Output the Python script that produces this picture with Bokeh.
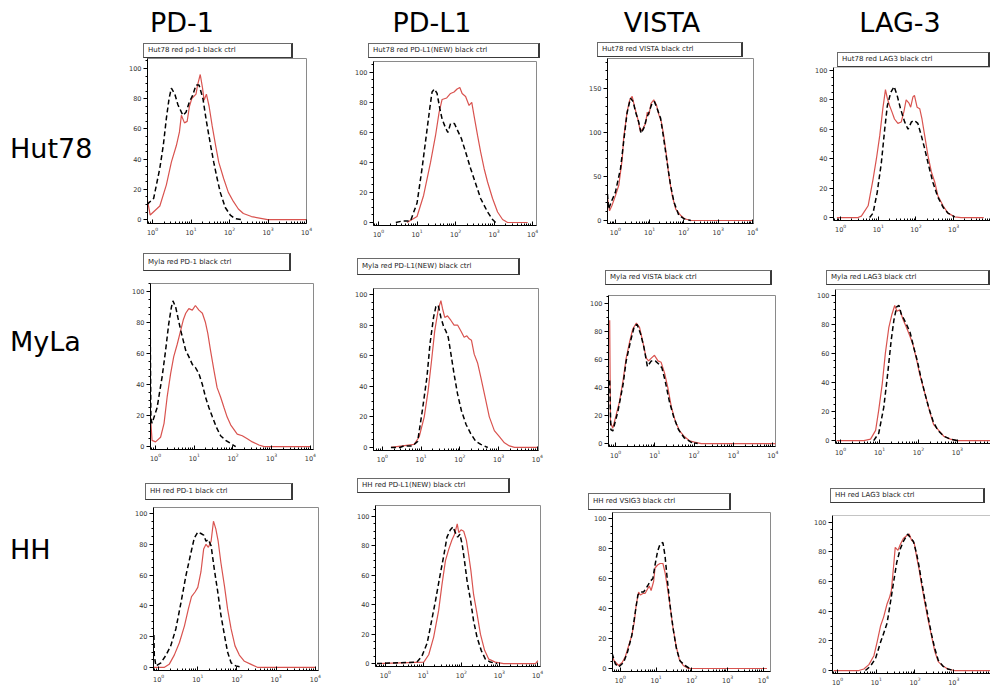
from bokeh.plotting import figure
from bokeh.models import Range1d, Span, FixedTicker, LogTickFormatter, SingleIntervalTicker, Div
from bokeh.embed import file_html
from bokeh.resources import INLINE

# ---------------- data (log10 of fluorescence, % of max count) ----------------
markers = ["PD-1", "PD-L1", "VISTA", "LAG-3"]
cell_lines = ["Hut78", "MyLa", "HH"]
panel_titles = [
    ["Hut78 red pd-1 black ctrl", "Hut78 red PD-L1(NEW) black ctrl", "Hut78 red VISTA black ctrl", "Hut78 red LAG3 black ctrl"],
    ["Myla red PD-1 black ctrl", "Myla red PD-L1(NEW) black ctrl", "Myla red VISTA black ctrl", "Myla red LAG3 black ctrl"],
    ["HH red PD-1 black ctrl", "HH red PD-L1(NEW) black ctrl", "HH red VSIG3 black ctrl", "HH red LAG3 black ctrl"],
]

hut78_pd1_red_lx = [-0.14, -0.06, 0.19, 0.36, 0.49, 0.62, 0.70, 0.75, 0.83, 0.90, 0.96, 1.02, 1.13, 1.17, 1.24, 1.30, 1.34, 1.40, 1.47, 1.55, 1.64, 1.72, 1.85, 1.97, 2.10, 2.23, 2.36, 2.57, 2.99, 3.67, 4.0]
hut78_pd1_red_y = [14, 3, 9, 23, 38, 49, 58, 69, 64, 65, 75, 80, 83, 89, 96, 87, 79, 83, 75, 62, 49, 38, 27, 18, 12, 7, 4, 2, 0, 0, 0]
hut78_pd1_blk_lx = [-0.14, 0.03, 0.19, 0.28, 0.36, 0.43, 0.49, 0.58, 0.66, 0.79, 0.87, 0.96, 1.04, 1.13, 1.21, 1.31, 1.40, 1.51, 1.59, 1.68, 1.76, 1.89, 2.02, 2.14, 2.31]
hut78_pd1_blk_y = [10, 14, 34, 49, 67, 80, 87, 83, 76, 69, 71, 78, 82, 89, 89, 80, 65, 49, 38, 27, 18, 8, 3, 0.7, 0]

hut78_pdl1_red_lx = [0.74, 1.0, 1.17, 1.35, 1.48, 1.57, 1.65, 1.77, 1.87, 1.96, 2.04, 2.11, 2.17, 2.26, 2.35, 2.42, 2.48, 2.57, 2.65, 2.74, 2.83, 2.96, 3.09, 3.22, 3.35, 3.87]
hut78_pdl1_red_y = [0, 4, 18, 40, 58, 73, 82, 83, 86, 87, 89, 90, 86, 84, 78, 80, 71, 58, 47, 36, 27, 16, 7, 2, 0, 0]
hut78_pdl1_blk_lx = [0.45, 0.62, 0.83, 1.0, 1.13, 1.24, 1.33, 1.39, 1.45, 1.52, 1.59, 1.65, 1.74, 1.80, 1.87, 1.97, 2.04, 2.15, 2.26, 2.39, 2.52, 2.65, 2.83, 2.96, 3.04]
hut78_pdl1_blk_y = [0, 1, 1, 13, 36, 58, 76, 87, 89, 86, 76, 69, 63, 60, 66, 66, 62, 56, 47, 36, 26, 16, 7, 2, 0]

hut78_vista_red_lx = [-0.24, -0.17, -0.10, 0, 0.10, 0.20, 0.24, 0.34, 0.42, 0.49, 0.56, 0.65, 0.73, 0.81, 0.88, 0.93, 0.98, 1.04, 1.12, 1.20, 1.27, 1.34, 1.41, 1.49, 1.56, 1.66, 1.76, 1.90, 2.02, 2.20, 4.0]
hut78_vista_red_y = [28, 11, 17, 28, 40, 70, 93, 123, 137, 141, 129, 116, 101, 105, 110, 123, 120, 133, 137, 131, 120, 112, 97, 74, 51, 28, 13, 6, 2, 0, 0]
hut78_vista_blk_lx = [-0.23, -0.20, -0.10, 0, 0.15, 0.24, 0.34, 0.44, 0.52, 0.59, 0.68, 0.75, 0.83, 0.91, 0.98, 1.07, 1.14, 1.22, 1.32, 1.41, 1.51, 1.61, 1.71, 1.85, 2.0, 2.20]
hut78_vista_blk_y = [30, 13, 23, 32, 59, 89, 122, 139, 135, 123, 112, 99, 105, 116, 123, 133, 135, 127, 116, 93, 66, 40, 21, 6, 2, 0]

hut78_lag3_red_lx = [-0.1, 0.46, 0.55, 0.73, 0.86, 0.95, 1.04, 1.12, 1.19, 1.24, 1.30, 1.36, 1.43, 1.52, 1.61, 1.68, 1.74, 1.81, 1.86, 1.92, 1.96, 2.03, 2.10, 2.16, 2.23, 2.32, 2.41, 2.50, 2.58, 2.72, 2.85, 3.03, 3.20, 3.8]
hut78_lag3_red_y = [0, 0, 1, 8, 26, 40, 56, 74, 87, 81, 76, 72, 67, 64, 65, 72, 80, 78, 75, 82, 83, 75, 74, 67, 56, 42, 31, 24, 15, 8, 3, 0.5, 0, 0]
hut78_lag3_blk_lx = [0.77, 0.86, 0.97, 1.08, 1.17, 1.24, 1.33, 1.42, 1.50, 1.59, 1.70, 1.79, 1.88, 1.96, 2.05, 2.14, 2.23, 2.34, 2.45, 2.58, 2.72, 2.85, 3.03]
hut78_lag3_blk_y = [0, 3, 17, 37, 60, 76, 85, 89, 83, 74, 65, 60, 65, 66, 64, 56, 47, 35, 24, 14, 7, 3, 0.5]

myla_pd1_red_lx = [-0.13, -0.09, 0, 0.13, 0.22, 0.30, 0.39, 0.47, 0.56, 0.65, 0.72, 0.78, 0.86, 0.95, 1.03, 1.12, 1.21, 1.29, 1.35, 1.42, 1.51, 1.59, 1.68, 1.77, 1.85, 1.94, 2.11, 2.24, 2.37, 2.50, 2.67, 2.80, 4.0]
myla_pd1_red_y = [19, 4, 3, 6, 15, 32, 47, 58, 66, 75, 82, 86, 89, 88, 91, 88, 86, 80, 73, 62, 49, 38, 32, 25, 19, 14, 8, 7, 5, 3, 1, 0, 0]
myla_pd1_blk_lx = [-0.14, -0.12, -0.09, 0.04, 0.17, 0.26, 0.34, 0.41, 0.45, 0.52, 0.58, 0.65, 0.72, 0.78, 0.86, 0.95, 1.03, 1.12, 1.21, 1.29, 1.38, 1.47, 1.58, 1.68, 1.81, 1.94, 2.07]
myla_pd1_blk_y = [85, 18, 15, 25, 45, 62, 79, 90, 94, 90, 83, 75, 68, 62, 58, 53, 51, 47, 40, 32, 25, 19, 12, 7, 4, 2, 0]

myla_pdl1_red_lx = [0.22, 0.82, 0.95, 1.08, 1.18, 1.27, 1.35, 1.44, 1.51, 1.55, 1.61, 1.68, 1.77, 1.85, 1.94, 2.03, 2.11, 2.18, 2.24, 2.30, 2.37, 2.46, 2.54, 2.65, 2.76, 2.89, 3.02, 3.15, 3.28, 3.41, 4.01]
myla_pdl1_red_y = [0, 2, 7, 20, 37, 57, 76, 90, 96, 91, 85, 86, 83, 80, 80, 76, 72, 73, 71, 70, 61, 55, 46, 33, 20, 11, 7, 3, 1, 0, 0]
myla_pdl1_blk_lx = [0.22, 0.45, 0.55, 0.78, 0.91, 1.03, 1.15, 1.23, 1.32, 1.38, 1.44, 1.51, 1.58, 1.64, 1.70, 1.77, 1.85, 1.94, 2.04, 2.16, 2.28, 2.41, 2.54, 2.72]
myla_pdl1_blk_y = [0, 0, 1, 1, 4, 24, 46, 68, 85, 92, 93, 85, 79, 76, 72, 61, 48, 35, 24, 15, 9, 4, 2, 0]

myla_vista_red_lx = [-0.15, -0.13, -0.07, 0.02, 0.10, 0.19, 0.27, 0.36, 0.44, 0.53, 0.61, 0.69, 0.78, 0.84, 0.91, 0.99, 1.08, 1.16, 1.25, 1.33, 1.42, 1.52, 1.63, 1.75, 1.88, 2.01, 2.18, 4.1]
myla_vista_red_y = [88, 15, 11, 21, 30, 45, 61, 73, 82, 86, 83, 73, 61, 59, 61, 63, 59, 58, 50, 40, 26, 16, 9, 5, 2, 1, 0, 0]
myla_vista_blk_lx = [-0.15, -0.12, -0.07, 0.06, 0.19, 0.27, 0.38, 0.48, 0.55, 0.64, 0.72, 0.81, 0.91, 1.01, 1.09, 1.18, 1.26, 1.37, 1.48, 1.60, 1.75, 1.92, 2.09]
myla_vista_blk_y = [45, 10, 9, 23, 42, 59, 73, 84, 85, 78, 69, 55, 59, 59, 57, 54, 45, 30, 19, 10, 4, 1, 0]

myla_lag3_red_lx = [-0.1, 0.60, 0.77, 0.90, 0.98, 1.07, 1.15, 1.24, 1.32, 1.39, 1.45, 1.52, 1.61, 1.69, 1.78, 1.86, 1.95, 2.03, 2.12, 2.21, 2.31, 2.39, 2.52, 2.65, 2.82, 2.99, 3.9]
myla_lag3_red_y = [0, 0, 1, 7, 21, 39, 60, 78, 87, 93, 89, 90, 83, 78, 72, 66, 56, 46, 37, 28, 18, 11, 7, 3, 1, 0, 0]
myla_lag3_blk_lx = [0.85, 0.98, 1.11, 1.21, 1.30, 1.37, 1.44, 1.50, 1.56, 1.62, 1.71, 1.79, 1.88, 1.97, 2.05, 2.15, 2.26, 2.38, 2.50, 2.65, 2.82, 2.99]
myla_lag3_blk_y = [0, 5, 23, 46, 69, 83, 92, 93, 87, 84, 79, 74, 64, 55, 45, 34, 23, 13, 7, 3, 1, 0]

hh_pd1_red_lx = [-0.12, 0.14, 0.27, 0.40, 0.53, 0.66, 0.76, 0.84, 0.93, 1.0, 1.08, 1.15, 1.21, 1.27, 1.34, 1.40, 1.46, 1.52, 1.59, 1.68, 1.76, 1.85, 1.95, 2.06, 2.19, 2.36, 2.53, 4.0]
hh_pd1_red_y = [0, 0, 2, 8, 16, 27, 38, 46, 49, 52, 62, 77, 80, 78, 82, 95, 90, 82, 68, 53, 38, 25, 14, 8, 4, 2, 0, 0]
hh_pd1_blk_lx = [-0.12, -0.11, -0.07, 0.06, 0.19, 0.31, 0.44, 0.57, 0.70, 0.83, 0.91, 1.0, 1.08, 1.15, 1.21, 1.27, 1.34, 1.42, 1.51, 1.59, 1.68, 1.76, 1.85, 1.97, 2.14]
hh_pd1_blk_y = [21, 8, 1, 3, 8, 14, 25, 42, 60, 75, 84, 88, 87, 86, 82, 83, 79, 64, 49, 34, 21, 10, 3, 1, 0]

hh_pdl1_red_lx = [-0.22, 1.01, 1.14, 1.27, 1.40, 1.49, 1.58, 1.67, 1.75, 1.82, 1.89, 1.93, 1.99, 2.06, 2.13, 2.19, 2.25, 2.32, 2.41, 2.50, 2.61, 2.72, 2.89, 3.11, 3.95, 4.01]
hh_pdl1_red_y = [0, 1, 6, 18, 36, 54, 70, 78, 84, 88, 95, 89, 91, 90, 84, 74, 63, 47, 34, 20, 9, 3, 1, 0, 0, 2]
hh_pdl1_blk_lx = [-0.22, 0.83, 0.96, 1.10, 1.20, 1.32, 1.43, 1.54, 1.62, 1.71, 1.78, 1.84, 1.90, 1.96, 2.02, 2.08, 2.15, 2.24, 2.32, 2.41, 2.52, 2.63, 2.76, 2.94]
hh_pdl1_blk_y = [0, 1, 5, 14, 27, 43, 59, 74, 86, 91, 93, 89, 86, 88, 81, 70, 56, 43, 29, 18, 9, 3, 1, 0]

hh_vsig3_red_lx = [-0.23, -0.17, -0.05, 0.05, 0.14, 0.23, 0.32, 0.39, 0.44, 0.51, 0.56, 0.63, 0.69, 0.76, 0.81, 0.86, 0.93, 0.97, 1.04, 1.11, 1.19, 1.25, 1.31, 1.39, 1.46, 1.56, 1.65, 1.76, 1.90, 4.1]
hh_vsig3_red_y = [8, 5, 2, 4, 8, 15, 22, 31, 42, 51, 49, 50, 50, 53, 55, 52, 58, 67, 69, 70, 70, 64, 55, 42, 29, 15, 6, 2, 0, 0]
hh_vsig3_blk_lx = [-0.23, -0.14, -0.05, 0.09, 0.20, 0.32, 0.42, 0.49, 0.56, 0.65, 0.76, 0.83, 0.91, 0.97, 1.04, 1.11, 1.19, 1.25, 1.31, 1.39, 1.48, 1.57, 1.67, 1.81, 1.94]
hh_vsig3_blk_y = [10, 3, 1, 4, 11, 22, 38, 49, 51, 51, 55, 58, 60, 69, 78, 83, 84, 75, 60, 42, 26, 13, 5, 2, 0]

hh_lag3_red_lx = [-0.1, 0.55, 0.68, 0.81, 0.94, 1.02, 1.11, 1.19, 1.28, 1.34, 1.39, 1.45, 1.49, 1.56, 1.62, 1.70, 1.79, 1.85, 1.91, 1.98, 2.04, 2.10, 2.17, 2.26, 2.34, 2.43, 2.51, 2.60, 2.72, 2.85, 3.02, 3.95]
hh_lag3_red_y = [0, 0, 1, 4, 10, 19, 30, 36, 45, 49, 54, 71, 83, 81, 85, 89, 91, 92, 88, 86, 77, 69, 58, 45, 34, 23, 13, 6, 3, 1, 0, 0]
hh_lag3_blk_lx = [0.72, 0.85, 0.98, 1.11, 1.19, 1.28, 1.36, 1.45, 1.53, 1.62, 1.70, 1.81, 1.87, 1.96, 2.04, 2.10, 2.17, 2.26, 2.34, 2.43, 2.51, 2.60, 2.72, 2.85, 3.02]
hh_lag3_blk_y = [0, 3, 8, 19, 25, 32, 45, 60, 73, 82, 87, 92, 90, 87, 79, 71, 60, 47, 36, 24, 15, 7, 3, 1, 0]

curves = [
    [(hut78_pd1_red_lx, hut78_pd1_red_y, hut78_pd1_blk_lx, hut78_pd1_blk_y),
     (hut78_pdl1_red_lx, hut78_pdl1_red_y, hut78_pdl1_blk_lx, hut78_pdl1_blk_y),
     (hut78_vista_red_lx, hut78_vista_red_y, hut78_vista_blk_lx, hut78_vista_blk_y),
     (hut78_lag3_red_lx, hut78_lag3_red_y, hut78_lag3_blk_lx, hut78_lag3_blk_y)],
    [(myla_pd1_red_lx, myla_pd1_red_y, myla_pd1_blk_lx, myla_pd1_blk_y),
     (myla_pdl1_red_lx, myla_pdl1_red_y, myla_pdl1_blk_lx, myla_pdl1_blk_y),
     (myla_vista_red_lx, myla_vista_red_y, myla_vista_blk_lx, myla_vista_blk_y),
     (myla_lag3_red_lx, myla_lag3_red_y, myla_lag3_blk_lx, myla_lag3_blk_y)],
    [(hh_pd1_red_lx, hh_pd1_red_y, hh_pd1_blk_lx, hh_pd1_blk_y),
     (hh_pdl1_red_lx, hh_pdl1_red_y, hh_pdl1_blk_lx, hh_pdl1_blk_y),
     (hh_vsig3_red_lx, hh_vsig3_red_y, hh_vsig3_blk_lx, hh_vsig3_blk_y),
     (hh_lag3_red_lx, hh_lag3_red_y, hh_lag3_blk_lx, hh_lag3_blk_y)],
]

# ---------------- layout (page pixel coordinates) ----------------
# frame (L, T, R, B), x log-range, y range, title box (L, T, R, B)
geom = [
    [((147, 58, 306, 223), (-0.13, 4.0), (-2.6, 106.6), (143, 43, 293, 58)),
     ((373, 61, 536, 225), (-0.13, 4.1), (-2, 107.3), (368, 43, 540, 58)),
     ((607, 58, 753, 223), (-0.23, 4.03), (-3.4, 184), (597, 42, 743, 57)),
     ((833, 67, 990, 220), (-0.19, 3.98), (-2, 102), (837, 52, 990, 67))],
    [((150, 283, 313, 449), (-0.13, 4.08), (-1.9, 105.2), (143, 253, 291, 271)),
     ((373, 288, 538, 450), (-0.23, 4.03), (-2, 103.9), (357, 258, 520, 275)),
     ((608, 295, 775, 446), (-0.18, 4.07), (-2.1, 105.7), (605, 270, 772, 285)),
     ((835, 289, 990, 443), (-0.13, 3.85), (-2, 104), (826, 270, 990, 285))],
    [((153, 507, 318, 670), (-0.13, 4.08), (-2, 103.9), (145, 483, 293, 500)),
     ((375, 505, 540, 666), (-0.26, 4.08), (-2, 107.5), (357, 478, 510, 493)),
     ((612, 512, 770, 671), (-0.22, 4.2), (-2, 104), (588, 493, 731, 510)),
     ((832, 515, 990, 673), (-0.13, 3.95), (-2, 104.5), (830, 488, 985, 503))],
]
header_centers = [182, 432, 662, 900]
header_top = 9
rowlabel_tops = [135, 328, 536]

FONT = "DejaVu Sans"
roots = []

for r in range(3):
    for c in range(4):
        (L, T, R, B), (x0, x1), (y0, y1), box = geom[r][c]
        bl_, bt_, br_, bb_ = 30, 2, (0 if c == 3 else 8), (14 if r == 2 else 18)
        p = figure(frame_width=R - L, frame_height=B - T, x_axis_type="log",
                   x_range=Range1d(10 ** x0, 10 ** x1), y_range=Range1d(y0, y1),
                   output_backend="svg", toolbar_location=None,
                   min_border_left=bl_, min_border_right=br_,
                   min_border_top=bt_, min_border_bottom=bb_,
                   styles={"position": "absolute", "left": f"{L - bl_}px", "top": f"{T - bt_}px"})
        p.grid.visible = False
        p.background_fill_color = "white"
        p.border_fill_alpha = 0
        if c < 3:
            p.outline_line_color = "#8a8a8a"
        else:
            p.outline_line_color = None
            p.add_layout(Span(location=y1, dimension="width", line_color="#8a8a8a", line_width=1))

        xa = p.xaxis[0]
        xa.ticker = FixedTicker(ticks=[1, 10, 100, 1000, 10000],
                                minor_ticks=[m * 10 ** k for k in range(-1, 4) for m in range(2, 10)])
        xa.formatter = LogTickFormatter()
        xa.major_tick_in, xa.major_tick_out = 4, 0
        xa.minor_tick_in, xa.minor_tick_out = 2, 0
        xa.major_label_standoff = 3
        ya = p.yaxis[0]
        ya.ticker = SingleIntervalTicker(interval=50 if y1 > 150 else 20, num_minor_ticks=5 if y1 > 150 else 4)
        ya.major_tick_in, ya.major_tick_out = 0, 4
        ya.minor_tick_in, ya.minor_tick_out = 0, 2
        ya.major_label_standoff = 2
        for ax in (xa, ya):
            ax.axis_line_color = "black"
            ax.major_tick_line_color = "black"
            ax.minor_tick_line_color = "black"
            ax.major_label_text_font = FONT
            ax.major_label_text_font_size = "6.5px"
            ax.major_label_text_color = "#333333"

        rlx, ry, blx, by = curves[r][c]
        p.line([10 ** v for v in rlx], ry, line_color="#d9534f", line_width=1.2)
        p.line([10 ** v for v in blx], by, line_color="black", line_width=1.5, line_dash="5 3")
        roots.append(p)

# title boxes above each panel
for r in range(3):
    for c in range(4):
        bl, bt, br, bb = geom[r][c][3]
        h = bb - bt
        roots.append(Div(text=panel_titles[r][c], width=br - bl, height=h, margin=0,
                         styles={"position": "absolute", "left": f"{bl}px", "top": f"{bt}px",
                                 "box-sizing": "border-box", "border": "1px solid #6a6a6a",
                                 "border-right": "2px solid #3a3a3a", "border-bottom": "1px solid #3a3a3a",
                                 "background": "white", "font-family": FONT, "font-size": "7px",
                                 "color": "#222222", "padding-left": "4px",
                                 "line-height": f"{h - 2}px", "white-space": "nowrap", "overflow": "hidden"}))

# column headers
for c in range(4):
    roots.append(Div(text=markers[c], width=160, height=30, margin=0,
                     styles={"position": "absolute", "left": f"{header_centers[c] - 80}px", "top": f"{header_top}px",
                             "font-family": FONT, "font-size": "27px", "line-height": "27px",
                             "text-align": "center", "color": "black", "white-space": "nowrap"}))
# row labels
for r in range(3):
    roots.append(Div(text=cell_lines[r], width=110, height=30, margin=0,
                     styles={"position": "absolute", "left": "10px", "top": f"{rowlabel_tops[r]}px",
                             "font-family": FONT, "font-size": "27px", "line-height": "27px",
                             "color": "black", "white-space": "nowrap"}))

open("out.html", "w").write(file_html(roots, INLINE, "flow histograms"))
